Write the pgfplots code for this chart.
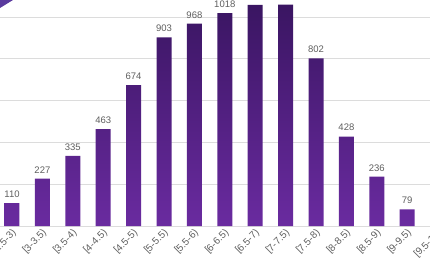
\documentclass[border=0pt]{standalone}
\usepackage{fontspec}
\setmainfont{Liberation Sans}
\usepackage{pgfplots}
\pgfplotsset{compat=1.18}
\definecolor{bartop}{HTML}{3A1562}
\definecolor{barbot}{HTML}{6A2BA0}
\definecolor{txtgray}{HTML}{5E5E5E}
\definecolor{gridgray}{HTML}{DCDCDC}
\definecolor{corner}{HTML}{5A3A9E}
\begin{document}
\begin{tikzpicture}[x=1pt,y=1pt]
\useasboundingbox (0,0) rectangle (430,260);
\clip (0,0) rectangle (430,260);
\begin{axis}[
  at={(-18.4pt,34pt)}, anchor=south west,
  scale only axis,
  width=486.4pt, height=250.8pt,
  xmin=-1, xmax=15, ymin=0, ymax=1200,
  axis line style={draw=none},
  axis x line*=bottom,
  ytick={200,400,600,800,1000},
  yticklabels={},
  ymajorgrids, grid style={gridgray, line width=0.6pt},
  major tick length=0pt,
  xtick={0,...,14},
  xticklabels={{\mbox{[2.5-3)}},{\mbox{[3-3.5)}},{\mbox{[3.5-4)}},{\mbox{[4-4.5)}},{\mbox{[4.5-5)}},{\mbox{[5-5.5)}},{\mbox{[5.5-6)}},{\mbox{[6-6.5)}},{\mbox{[6.5-7)}},{\mbox{[7-7.5)}},{\mbox{[7.5-8)}},{\mbox{[8-8.5)}},{\mbox{[8.5-9)}},{\mbox{[9-9.5)}},{\mbox{[9.5-10)}}},
  xticklabel style={rotate=45, anchor=north east, font=\fontsize{10}{11}\selectfont, text=txtgray, inner sep=1pt, xshift=-1pt},
  ybar, bar width=15pt,
  nodes near coords,
  /pgf/number format/assume math mode=true,
  /pgf/number format/1000 sep={},
  every node near coord/.append style={font=\fontsize{9.5}{10}\selectfont, text=txtgray, yshift=2pt},
  clip=false,
]
\draw[gridgray, line width=0.8pt] (axis cs:-1,0) -- (axis cs:15,0);
\addplot[draw=none, top color=bartop, bottom color=barbot] coordinates {
(0,110) (1,227) (2,335) (3,463) (4,674) (5,903) (6,968) (7,1018) (8,1058) (9,1059) (10,802) (11,428) (12,236) (13,79)
};
\end{axis}
\fill[corner] (0,260) -- (13,260) -- (0,252) -- cycle;
\end{tikzpicture}
\end{document}
